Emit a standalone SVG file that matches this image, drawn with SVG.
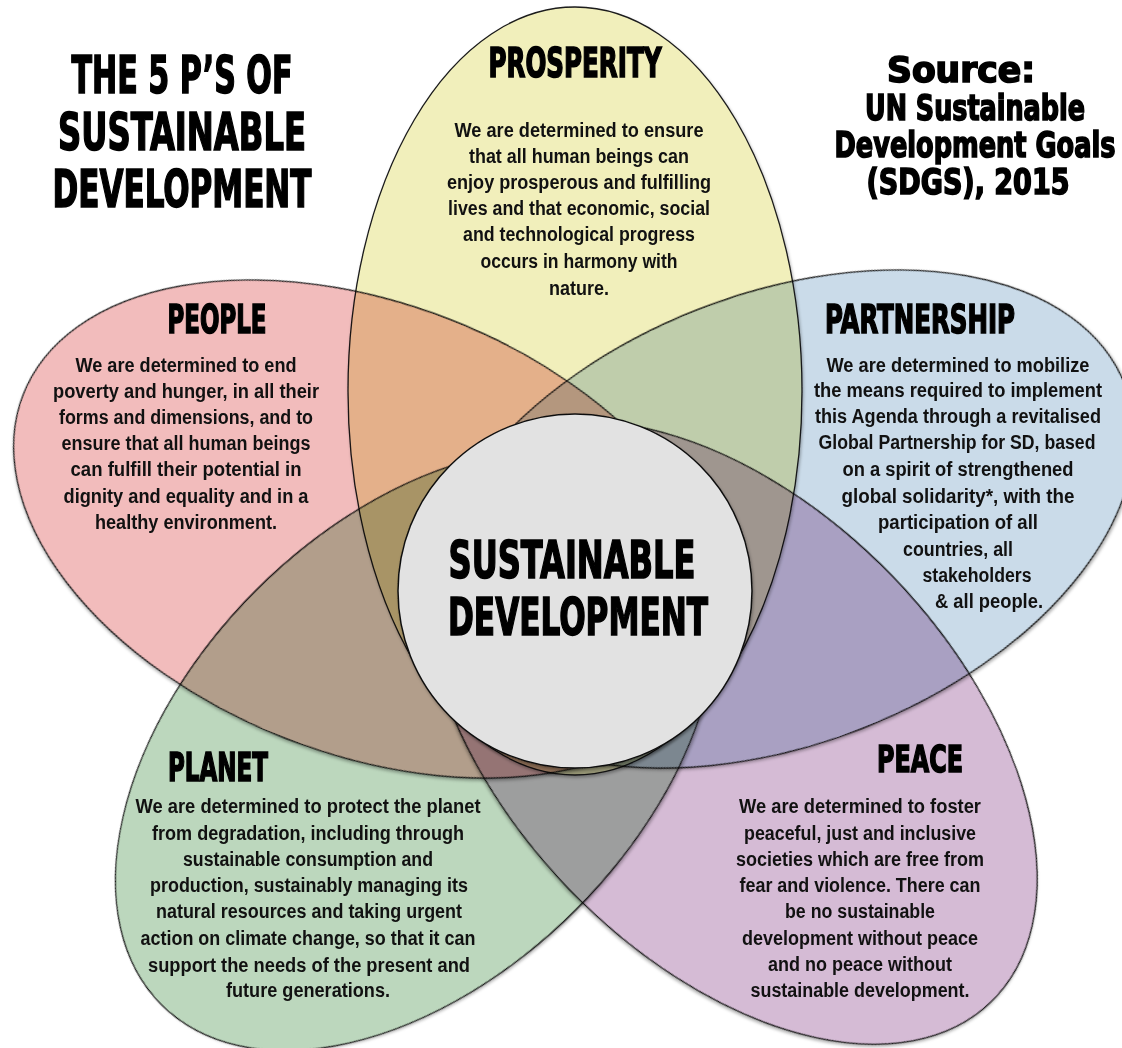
<svg xmlns="http://www.w3.org/2000/svg" width="1122" height="1048" viewBox="0 0 1122 1048">
<defs>
<filter id="shadow" x="-10%" y="-10%" width="120%" height="120%">
<feDropShadow dx="1" dy="2" stdDeviation="1.8" flood-color="#000" flood-opacity="0.3"/>
</filter>
</defs>
<style>
.petal{stroke:#1a1a1a;stroke-width:1.3;filter:url(#shadow)}
.blend{mix-blend-mode:multiply}
.h{font-family:"Liberation Sans Narrow","DejaVu Sans Condensed","DejaVu Sans",sans-serif;font-weight:bold;fill:#000;stroke:#000;stroke-width:1.6;text-anchor:middle}
.b{font-family:"Liberation Sans",Arial,sans-serif;font-weight:bold;font-size:19.5px;fill:#111;text-anchor:middle}
</style>
<rect width="1122" height="1048" fill="#ffffff"/>

<g id="title">
<text class="h" font-size="52" x="182" y="93" textLength="221" lengthAdjust="spacingAndGlyphs">THE 5 P’S OF</text>
<text class="h" font-size="52" x="182" y="150" textLength="248" lengthAdjust="spacingAndGlyphs">SUSTAINABLE</text>
<text class="h" font-size="52" x="182" y="207" textLength="259" lengthAdjust="spacingAndGlyphs">DEVELOPMENT</text>
</g>

<g id="source">
<text class="h" font-size="36" x="961" y="82" textLength="148" lengthAdjust="spacingAndGlyphs">Source:</text>
<text class="h" font-size="36" x="975" y="120" textLength="220" lengthAdjust="spacingAndGlyphs">UN Sustainable</text>
<text class="h" font-size="36" x="975" y="157" textLength="281" lengthAdjust="spacingAndGlyphs">Development Goals</text>
<text class="h" font-size="36" x="968" y="194" textLength="203" lengthAdjust="spacingAndGlyphs">(SDGS), 2015</text>
</g>

<g id="people" class="blend">
<ellipse class="petal" cx="368" cy="529" rx="370" ry="225" transform="rotate(21.3 368 529)" fill="#F2BCBC"/>
<text class="h" font-size="39" x="217" y="333" textLength="99" lengthAdjust="spacingAndGlyphs">PEOPLE</text>
<text class="b" x="186" y="372" textLength="221" lengthAdjust="spacingAndGlyphs">We are determined to end</text>
<text class="b" x="186" y="398" textLength="266" lengthAdjust="spacingAndGlyphs">poverty and hunger, in all their</text>
<text class="b" x="186" y="424" textLength="254" lengthAdjust="spacingAndGlyphs">forms and dimensions, and to</text>
<text class="b" x="186" y="450" textLength="249" lengthAdjust="spacingAndGlyphs">ensure that all human beings</text>
<text class="b" x="186" y="476" textLength="231" lengthAdjust="spacingAndGlyphs">can fulfill their potential in</text>
<text class="b" x="186" y="503" textLength="245" lengthAdjust="spacingAndGlyphs">dignity and equality and in a</text>
<text class="b" x="186" y="529" textLength="182" lengthAdjust="spacingAndGlyphs">healthy environment.</text>
</g>

<g id="prosperity" class="blend">
<ellipse class="petal" cx="575" cy="391" rx="227" ry="384" fill="#F1EFBB"/>
<text class="h" font-size="40" x="575" y="77" textLength="173" lengthAdjust="spacingAndGlyphs">PROSPERITY</text>
<text class="b" x="579" y="137" textLength="249" lengthAdjust="spacingAndGlyphs">We are determined to ensure</text>
<text class="b" x="579" y="163" textLength="220" lengthAdjust="spacingAndGlyphs">that all human beings can</text>
<text class="b" x="579" y="189" textLength="264" lengthAdjust="spacingAndGlyphs">enjoy prosperous and fulfilling</text>
<text class="b" x="579" y="215" textLength="262" lengthAdjust="spacingAndGlyphs">lives and that economic, social</text>
<text class="b" x="579" y="241" textLength="232" lengthAdjust="spacingAndGlyphs">and technological progress</text>
<text class="b" x="579" y="268" textLength="197" lengthAdjust="spacingAndGlyphs">occurs in harmony with</text>
<text class="b" x="579" y="295" textLength="60" lengthAdjust="spacingAndGlyphs">nature.</text>
</g>

<g id="partnership" class="blend">
<ellipse class="petal" cx="780" cy="519" rx="370" ry="225" transform="rotate(-21.3 780 519)" fill="#CADBE9"/>
<text class="h" font-size="39" x="920" y="333" textLength="190" lengthAdjust="spacingAndGlyphs">PARTNERSHIP</text>
<text class="b" x="958" y="372" textLength="263" lengthAdjust="spacingAndGlyphs">We are determined to mobilize</text>
<text class="b" x="958" y="397" textLength="288" lengthAdjust="spacingAndGlyphs">the means required to implement</text>
<text class="b" x="958" y="423" textLength="286" lengthAdjust="spacingAndGlyphs">this Agenda through a revitalised</text>
<text class="b" x="957" y="449" textLength="277" lengthAdjust="spacingAndGlyphs">Global Partnership for SD, based</text>
<text class="b" x="958" y="476" textLength="231" lengthAdjust="spacingAndGlyphs">on a spirit of strengthened</text>
<text class="b" x="958" y="503" textLength="233" lengthAdjust="spacingAndGlyphs">global solidarity*, with the</text>
<text class="b" x="958" y="529" textLength="160" lengthAdjust="spacingAndGlyphs">participation of all</text>
<text class="b" x="958" y="556" textLength="110" lengthAdjust="spacingAndGlyphs">countries, all</text>
<text class="b" x="977" y="582" textLength="109" lengthAdjust="spacingAndGlyphs">stakeholders</text>
<text class="b" x="989" y="608" textLength="108" lengthAdjust="spacingAndGlyphs">&amp; all people.</text>
</g>

<g id="planet" class="blend">
<ellipse class="petal" cx="416" cy="750" rx="360" ry="226" transform="rotate(-45 416 750)" fill="#BCD7BD"/>
<text class="h" font-size="39" x="218" y="781" textLength="100" lengthAdjust="spacingAndGlyphs">PLANET</text>
<text class="b" x="308" y="813" textLength="345" lengthAdjust="spacingAndGlyphs">We are determined to protect the planet</text>
<text class="b" x="308" y="840" textLength="312" lengthAdjust="spacingAndGlyphs">from degradation, including through</text>
<text class="b" x="308" y="866" textLength="250" lengthAdjust="spacingAndGlyphs">sustainable consumption and</text>
<text class="b" x="309" y="892" textLength="318" lengthAdjust="spacingAndGlyphs">production, sustainably managing its</text>
<text class="b" x="309" y="918" textLength="306" lengthAdjust="spacingAndGlyphs">natural resources and taking urgent</text>
<text class="b" x="308" y="945" textLength="335" lengthAdjust="spacingAndGlyphs">action on climate change, so that it can</text>
<text class="b" x="309" y="972" textLength="322" lengthAdjust="spacingAndGlyphs">support the needs of the present and</text>
<text class="b" x="308" y="997" textLength="164" lengthAdjust="spacingAndGlyphs">future generations.</text>
</g>

<g id="peace" class="blend">
<ellipse class="petal" cx="731" cy="733" rx="374" ry="225" transform="rotate(46 731 733)" fill="#D5BBD5"/>
<text class="h" font-size="38" x="920" y="772" textLength="86" lengthAdjust="spacingAndGlyphs">PEACE</text>
<text class="b" x="860" y="813" textLength="242" lengthAdjust="spacingAndGlyphs">We are determined to foster</text>
<text class="b" x="860" y="840" textLength="232" lengthAdjust="spacingAndGlyphs">peaceful, just and inclusive</text>
<text class="b" x="860" y="866" textLength="248" lengthAdjust="spacingAndGlyphs">societies which are free from</text>
<text class="b" x="860" y="892" textLength="241" lengthAdjust="spacingAndGlyphs">fear and violence. There can</text>
<text class="b" x="860" y="918" textLength="150" lengthAdjust="spacingAndGlyphs">be no sustainable</text>
<text class="b" x="860" y="945" textLength="236" lengthAdjust="spacingAndGlyphs">development without peace</text>
<text class="b" x="860" y="971" textLength="184" lengthAdjust="spacingAndGlyphs">and no peace without</text>
<text class="b" x="860" y="997" textLength="219" lengthAdjust="spacingAndGlyphs">sustainable development.</text>
</g>

<g id="sustainable-development">
<circle cx="575" cy="591" r="177" fill="#E2E2E2" stroke="#111" stroke-width="1.5" filter="url(#shadow)"/>
<text class="h" font-size="52" x="572" y="578" textLength="247" lengthAdjust="spacingAndGlyphs">SUSTAINABLE</text>
<text class="h" font-size="52" x="578" y="635" textLength="260" lengthAdjust="spacingAndGlyphs">DEVELOPMENT</text>
</g>
</svg>
